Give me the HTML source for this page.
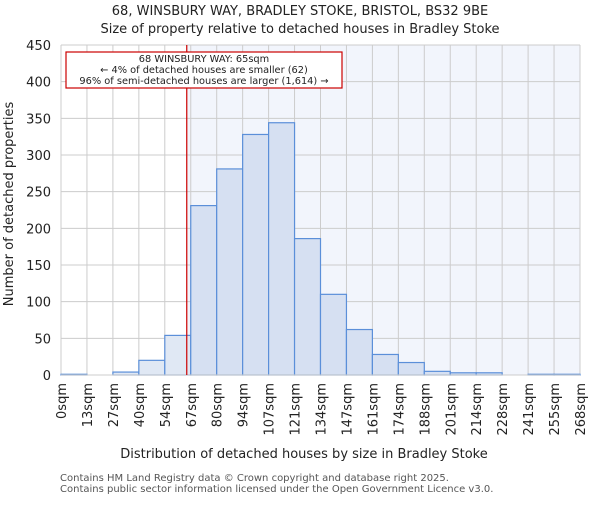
<!DOCTYPE html>
<html><head><meta charset="utf-8"><style>
body{margin:0;background:#fff;font-family:"Liberation Sans","DejaVu Sans",sans-serif;}
svg text{font-family:"DejaVu Sans","Liberation Sans",sans-serif;}
</style></head><body>
<svg id="chart" width="600" height="500" xmlns="http://www.w3.org/2000/svg">
<text x="300" y="15" text-anchor="middle" font-size="13" fill="#222">68, WINSBURY WAY, BRADLEY STOKE, BRISTOL, BS32 9BE</text>
<text x="300" y="33" text-anchor="middle" font-size="13" fill="#222">Size of property relative to detached houses in Bradley Stoke</text>
<g id="plot"></g>
<text x="304" y="458" text-anchor="middle" font-size="13" fill="#222">Distribution of detached houses by size in Bradley Stoke</text>
<text transform="translate(13,204) rotate(-90)" text-anchor="middle" font-size="13" fill="#222">Number of detached properties</text>
<text x="60" y="481" font-size="10" fill="#555">Contains HM Land Registry data © Crown copyright and database right 2025.</text>
<text x="60" y="492" font-size="10" fill="#555">Contains public sector information licensed under the Open Government Licence v3.0.</text>
</svg>
<script>
const binEdges=[0,13,27,40,54,67,80,94,107,121,134,147,161,174,188,201,214,228,241,255,268];
const tickLabels=["0sqm","13sqm","27sqm","40sqm","54sqm","67sqm","80sqm","94sqm","107sqm","121sqm","134sqm","147sqm","161sqm","174sqm","188sqm","201sqm","214sqm","228sqm","241sqm","255sqm","268sqm"];
const counts=[1,0,4,20,54,231,281,328,344,186,110,62,28,17,5,3,3,0,1,1];
const yTicks=[0,50,100,150,200,250,300,350,400,450];
const propertySize=65;
const NS="http://www.w3.org/2000/svg";
const X0=61,X1=580,Y0=375,Y1=45;
const nb=counts.length;
const x=i=>X0+(X1-X0)*i/nb;
const xv=v=>{for(let i=0;i<nb;i++){if(v<=binEdges[i+1])return x(i)+(x(i+1)-x(i))*(v-binEdges[i])/(binEdges[i+1]-binEdges[i]);}return X1;};
const y=v=>Y0-(Y0-Y1)*v/450;
const g=document.getElementById('plot');
function mk(t,a){const e=document.createElementNS(NS,t);for(const k in a)e.setAttribute(k,a[k]);g.appendChild(e);return e;}
const lx=xv(propertySize);
let r=mk('rect',{x:lx,y:Y1,width:X1-lx,height:Y0-Y1,fill:'#f2f5fc'});


yTicks.forEach(t=>{
 let l=mk('line',{x1:X0,x2:X1,y1:y(t),y2:y(t),stroke:'#ccc','stroke-width':1});
 
 
 let tx=mk('text',{x:X0-10,y:y(t)+5,'text-anchor':'end','font-size':13,fill:'#222'});
 tx.textContent=t;
 
 
});
tickLabels.forEach((t,i)=>{
 let l=mk('line',{x1:x(i),x2:x(i),y1:Y1,y2:Y0,stroke:'#ccc','stroke-width':1});
 
 
 let tx=mk('text',{transform:`translate(${x(i)+5},${Y0+8}) rotate(-90)`,'text-anchor':'end','font-size':13,fill:'#222'});
 tx.textContent=t;
 
 
});
counts.forEach((c,i)=>{
 if(c<=0)return;
 let b=mk('rect',{x:x(i),y:y(c),width:x(i+1)-x(i),height:Y0-y(c),fill:x(i)<lx?'#e0e8f4':'#d6e0f2',stroke:'#5b8fd9','stroke-width':1.2});
 
 
});
let ax=mk('line',{x1:X0,x2:X1,y1:Y0,y2:Y0,stroke:'#ccc','stroke-width':1});


let pl=mk('line',{x1:lx,x2:lx,y1:Y1,y2:Y0,stroke:'#c00','stroke-width':1.2});


let box=mk('rect',{x:66,y:52,width:276,height:36,fill:'#fff',stroke:'#c00','stroke-width':1.2});


["68 WINSBURY WAY: 65sqm","← 4% of detached houses are smaller (62)","96% of semi-detached houses are larger (1,614) →"].forEach((s,i)=>{
 let t=mk('text',{x:204,y:62+i*11,'text-anchor':'middle','font-size':9.8,fill:'#222'});
 t.textContent=s;
 
 
});
</script>
</body></html>
